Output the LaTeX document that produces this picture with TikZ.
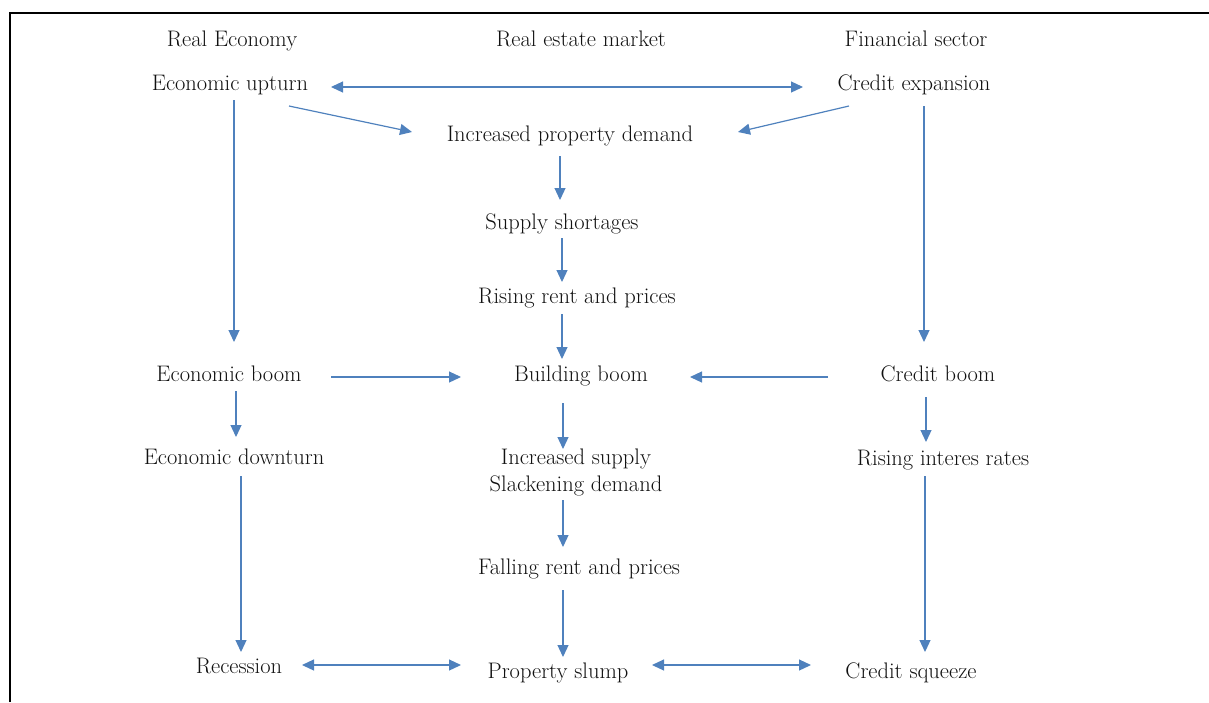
\documentclass[tikz,border=0pt]{standalone}
\usetikzlibrary{arrows.meta,calc}
\definecolor{arrowblue}{HTML}{4F81BD}
\definecolor{txt}{HTML}{111111}
\begin{document}
\begin{tikzpicture}[x=1pt,y=-1pt,
  lbl/.style={inner sep=0pt,text height=15pt,text depth=5pt,text=txt,font=\fontsize{22.5}{27}\selectfont},
  lbl2/.style={inner sep=0pt,align=center,text=txt,font=\fontsize{22.5}{27}\selectfont},
  arr/.style={draw=arrowblue,line width=1.2pt,-{Triangle[length=12pt,width=11pt]}},
  darr/.style={draw=arrowblue,line width=1.2pt,{Triangle[length=12pt,width=11pt]}-{Triangle[length=12pt,width=11pt]}}]
\useasboundingbox (0,0) rectangle (1209,702);
% frame
\draw[line width=1.5pt] (10,702) -- (10,13) -- (1215,13);
% headers
\node[lbl] (re) at (232,41) {Real Economy};
\node[lbl] (rem) at (581,41) {Real estate market};
\node[lbl] (fs) at (916,41) {Financial sector};
% nodes
\node[lbl] (eu) at (230,85) {Economic upturn};
\node[lbl] (ce) at (914,85) {Credit expansion};
\node[lbl] (ipd) at (570,136) {Increased property demand};
\node[lbl] (ss) at (562,224) {Supply shortages};
\node[lbl] (rrp) at (577,298) {Rising rent and prices};
\node[lbl] (eb) at (229,376) {Economic boom};
\node[lbl] (bb) at (581,376) {Building boom};
\node[lbl] (cb) at (938,376) {Credit boom};
\node[lbl] (ed) at (234,459) {Economic downturn};
\node[lbl2] (is) at (576,472) {Increased supply\\Slackening demand};
\node[lbl] (ri) at (943,460) {Rising interes rates};
\node[lbl] (frp) at (579,569) {Falling rent and prices};
\node[lbl] (rec) at (239,668) {Recession};
\node[lbl] (ps) at (558,673) {Property slump};
\node[lbl] (cs) at (911,673) {Credit squeeze};
% connectors
\draw[darr] ($(eu)+(101,2)$) -- ($(ce)+(-111,2)$);
\draw[arr] ($(eu)+(59,21)$) -- ($(ipd)+(-158,-4)$);
\draw[arr] ($(ce)+(-65,21)$) -- ($(ipd)+(168,-4)$);
\draw[arr] ($(ipd)+(-10,20)$) -- ($(ss)+(-2,-24)$);
\draw[arr] ($(ss)+(0,14)$) -- ($(rrp)+(-15,-16)$);
\draw[arr] ($(rrp)+(-15,16)$) -- ($(bb)+(-19,-17)$);
\draw[arr] ($(eu)+(4,15)$) -- ($(eb)+(5,-34)$);
\draw[arr] ($(ce)+(10,21)$) -- ($(cb)+(-14,-34)$);
\draw[arr] ($(eb)+(102,1)$) -- ($(bb)+(-120,1)$);
\draw[arr] ($(cb)+(-110,1)$) -- ($(bb)+(109,1)$);
\draw[arr] ($(eb)+(7,15)$) -- ($(ed)+(2,-22)$);
\draw[arr] ($(bb)+(-18,27)$) -- ($(is)+(-13,-23)$);
\draw[arr] ($(cb)+(-12,21)$) -- ($(ri)+(-17,-18)$);
\draw[arr] ($(ed)+(7,17)$) -- ($(rec)+(2,-16)$);
\draw[arr] ($(is)+(-13,28)$) -- ($(frp)+(-16,-22)$);
\draw[arr] ($(ri)+(-18,16)$) -- ($(cs)+(14,-21)$);
\draw[arr] ($(frp)+(-16,21)$) -- ($(ps)+(5,-16)$);
\draw[darr] ($(rec)+(63,-3)$) -- ($(ps)+(-97,-8)$);
\draw[darr] ($(ps)+(94,-8)$) -- ($(cs)+(-100,-8)$);
\end{tikzpicture}
\end{document}
